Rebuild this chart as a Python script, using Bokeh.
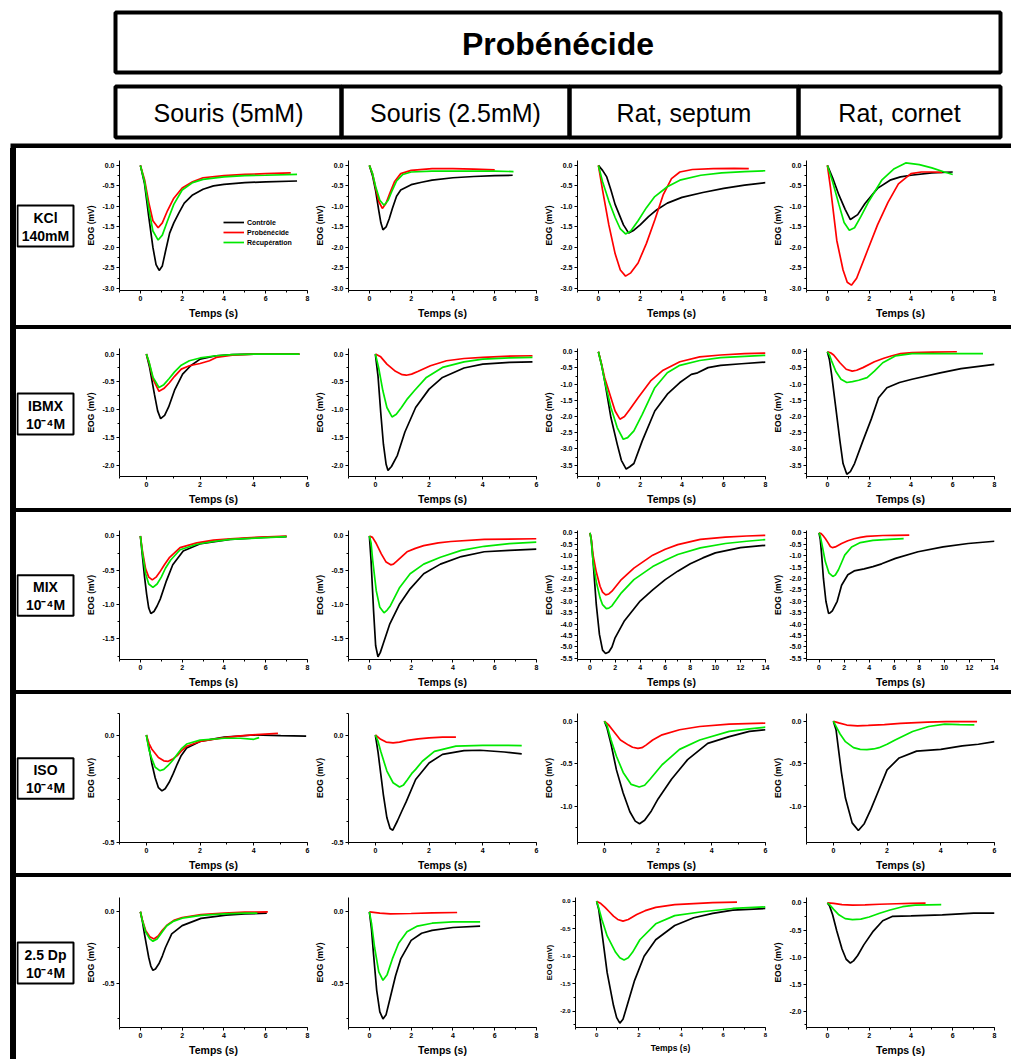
from bokeh.plotting import figure
from bokeh.layouts import column, row
from bokeh.models import Range1d, SingleIntervalTicker, NumeralTickFormatter, Legend, LegendItem, Div
from bokeh.core.properties import value
from bokeh.embed import file_html
from bokeh.resources import INLINE

# ---------------- labels ----------------
title_text = "Probénécide"
col_labels = ["Souris (5mM)", "Souris (2.5mM)", "Rat, septum", "Rat, cornet"]
row_labels = [("KCl", "140mM"), ("IBMX", "10⁻⁴M"), ("MIX", "10⁻⁴M"), ("ISO", "10⁻⁴M"), ("2.5 Dp", "10⁻⁴M")]
series_labels = ["Contrôle", "Probénécide", "Récupération"]
series_colors = ["#000000", "#ff0000", "#00e800"]
row_keys = ["kcl", "ibmx", "mix", "iso", "dp"]
col_keys = ["s5", "s25", "sep", "cor"]
series_keys = ["ctl", "pro", "rec"]

# axis extents per panel (rows x columns)
x_max = [[8, 8, 8, 8], [6, 6, 8, 8], [8, 8, 14, 14], [6, 6, 6, 6], [8, 8, 8, 8]]
y_min = [[-3.05, -3.05, -3.05, -3.05], [-2.2, -2.2, -3.85, -3.85], [-1.8, -1.8, -5.55, -5.55],
         [-0.5, -0.5, -1.42, -1.42], [-0.81, -0.81, -2.3, -2.3]]
y_max = [[0.12, 0.12, 0.12, 0.12], [0.1, 0.1, 0.1, 0.1], [0.08, 0.08, 0.1, 0.1],
         [0.1, 0.1, 0.09, 0.09], [0.1, 0.1, 0.07, 0.1]]

# ---------------- data: time (s) / EOG (mV) ----------------
# KCl 140mM
kcl_s5_ctl_t = [0, 0.2, 0.4, 0.6, 0.75, 0.9, 1.05, 1.2, 1.4, 1.6, 1.85, 2.1, 2.5, 3.0, 3.5, 4.0, 5.0, 6.0, 7.5]
kcl_s5_ctl_v = [0, -0.45, -1.25, -2.0, -2.42, -2.56, -2.45, -2.1, -1.65, -1.4, -1.15, -0.92, -0.72, -0.58, -0.5, -0.46, -0.42, -0.4, -0.38]
kcl_s5_pro_t = [0, 0.2, 0.4, 0.6, 0.85, 1.05, 1.3, 1.6, 2.0, 2.5, 3.0, 4.0, 5.0, 6.0, 7.2]
kcl_s5_pro_v = [0, -0.35, -0.9, -1.35, -1.52, -1.4, -1.1, -0.8, -0.55, -0.4, -0.3, -0.25, -0.22, -0.2, -0.18]
kcl_s5_rec_t = [0, 0.2, 0.4, 0.6, 0.85, 1.05, 1.3, 1.6, 2.0, 2.5, 3.0, 4.0, 5.0, 6.0, 7.5]
kcl_s5_rec_v = [0, -0.4, -1.05, -1.6, -1.82, -1.7, -1.35, -0.95, -0.6, -0.42, -0.34, -0.28, -0.25, -0.24, -0.22]

kcl_s25_ctl_t = [0, 0.15, 0.3, 0.45, 0.55, 0.65, 0.8, 0.95, 1.1, 1.3, 1.5, 2.0, 2.5, 3.0, 4.0, 5.0, 6.0, 6.86]
kcl_s25_ctl_v = [0, -0.25, -0.62, -1.1, -1.4, -1.57, -1.5, -1.3, -1.05, -0.75, -0.6, -0.47, -0.41, -0.36, -0.3, -0.27, -0.25, -0.24]
kcl_s25_pro_t = [0, 0.15, 0.3, 0.45, 0.62, 0.8, 1.0, 1.2, 1.5, 2.0, 3.0, 4.0, 5.0, 6.0]
kcl_s25_pro_v = [0, -0.2, -0.55, -0.88, -1.05, -0.92, -0.65, -0.4, -0.2, -0.12, -0.08, -0.08, -0.09, -0.11]
kcl_s25_rec_t = [0, 0.15, 0.3, 0.5, 0.7, 0.9, 1.1, 1.3, 1.6, 2.0, 3.0, 4.0, 5.0, 6.0, 6.9]
kcl_s25_rec_v = [0, -0.2, -0.52, -0.85, -0.97, -0.85, -0.6, -0.38, -0.22, -0.16, -0.14, -0.14, -0.14, -0.14, -0.15]

kcl_sep_ctl_t = [0, 0.2, 0.4, 0.6, 0.8, 1.0, 1.2, 1.45, 1.7, 2.0, 2.4, 2.8, 3.3, 4.0, 5.0, 6.0, 7.0, 8.0]
kcl_sep_ctl_v = [0, -0.12, -0.28, -0.6, -0.95, -1.2, -1.45, -1.65, -1.58, -1.45, -1.25, -1.08, -0.92, -0.78, -0.66, -0.56, -0.48, -0.42]
kcl_sep_pro_t = [0, 0.2, 0.5, 0.8, 1.05, 1.3, 1.55, 1.9, 2.3, 2.7, 3.1, 3.5, 3.9, 4.5, 5.5, 6.5, 7.2]
kcl_sep_pro_v = [0, -0.6, -1.45, -2.15, -2.55, -2.7, -2.62, -2.38, -1.9, -1.33, -0.72, -0.32, -0.16, -0.1, -0.08, -0.07, -0.08]
kcl_sep_rec_t = [0, 0.2, 0.5, 0.8, 1.05, 1.3, 1.55, 1.9, 2.3, 2.7, 3.3, 3.9, 4.9, 5.9, 7.0, 8.0]
kcl_sep_rec_v = [0, -0.4, -0.87, -1.27, -1.55, -1.67, -1.6, -1.35, -1.03, -0.76, -0.52, -0.36, -0.24, -0.18, -0.15, -0.13]

kcl_cor_ctl_t = [0, 0.25, 0.55, 0.85, 1.1, 1.45, 1.8, 2.4, 3.0, 3.5, 4.0, 5.0, 6.0]
kcl_cor_ctl_v = [0, -0.3, -0.72, -1.07, -1.32, -1.2, -0.93, -0.56, -0.36, -0.28, -0.24, -0.18, -0.16]
kcl_cor_pro_t = [0, 0.15, 0.45, 0.75, 0.95, 1.15, 1.4, 1.9, 2.4, 2.9, 3.4, 4.0, 4.5, 5.0, 5.5]
kcl_cor_pro_v = [0, -0.55, -1.83, -2.55, -2.85, -2.92, -2.75, -2.1, -1.45, -0.9, -0.45, -0.2, -0.16, -0.16, -0.17]
kcl_cor_rec_t = [0, 0.25, 0.55, 0.8, 1.05, 1.3, 1.6, 2.0, 2.6, 3.2, 3.75, 4.4, 5.0, 5.6, 6.0]
kcl_cor_rec_v = [0, -0.4, -0.95, -1.39, -1.58, -1.52, -1.25, -0.86, -0.36, -0.08, 0.06, 0.02, -0.06, -0.16, -0.22]

# IBMX 10-4M
ibmx_s5_ctl_t = [0, 0.12, 0.3, 0.42, 0.53, 0.68, 0.83, 1.05, 1.35, 1.65, 2.0, 2.6, 3.2, 4.0, 5.7]
ibmx_s5_ctl_v = [0, -0.24, -0.72, -1.02, -1.16, -1.1, -0.95, -0.65, -0.36, -0.21, -0.09, -0.03, -0.01, 0.0, 0.0]
ibmx_s5_pro_t = [0, 0.1, 0.25, 0.47, 0.65, 0.85, 1.05, 1.3, 1.6, 2.0, 2.35, 2.6, 3.2, 4.0, 5.7]
ibmx_s5_pro_v = [0, -0.15, -0.45, -0.67, -0.62, -0.52, -0.4, -0.27, -0.21, -0.17, -0.12, -0.06, -0.02, 0.0, 0.0]
ibmx_s5_rec_t = [0, 0.1, 0.25, 0.47, 0.65, 0.85, 1.05, 1.3, 1.6, 2.0, 2.6, 3.2, 4.0, 5.7]
ibmx_s5_rec_v = [0, -0.14, -0.42, -0.6, -0.55, -0.44, -0.32, -0.2, -0.12, -0.07, -0.03, -0.01, 0.0, 0.0]

ibmx_s25_ctl_t = [0, 0.1, 0.2, 0.3, 0.4, 0.47, 0.6, 0.82, 1.1, 1.5, 2.0, 2.5, 3.3, 4.0, 5.0, 5.85]
ibmx_s25_ctl_v = [0, -0.4, -1.05, -1.62, -1.98, -2.09, -2.02, -1.82, -1.4, -0.96, -0.63, -0.42, -0.25, -0.18, -0.15, -0.14]
ibmx_s25_pro_t = [0, 0.2, 0.43, 0.75, 1.0, 1.15, 1.35, 1.6, 2.05, 2.65, 3.3, 4.0, 4.8, 5.85]
ibmx_s25_pro_v = [0, -0.05, -0.18, -0.31, -0.37, -0.38, -0.36, -0.31, -0.21, -0.12, -0.08, -0.06, -0.04, -0.03]
ibmx_s25_rec_t = [0, 0.12, 0.28, 0.43, 0.62, 0.78, 0.97, 1.2, 1.45, 1.9, 2.5, 3.3, 4.0, 5.0, 5.85]
ibmx_s25_rec_v = [0, -0.24, -0.66, -0.96, -1.13, -1.08, -0.96, -0.8, -0.66, -0.42, -0.24, -0.14, -0.09, -0.07, -0.06]

ibmx_sep_ctl_t = [0, 0.15, 0.3, 0.6, 0.9, 1.1, 1.33, 1.5, 1.7, 2.1, 2.7, 3.3, 3.9, 4.45, 4.75, 5.25, 5.85, 6.85, 8.0]
ibmx_sep_ctl_v = [0, -0.4, -0.9, -2.03, -2.85, -3.35, -3.62, -3.55, -3.45, -2.75, -1.83, -1.31, -0.95, -0.7, -0.65, -0.49, -0.42, -0.37, -0.32]
ibmx_sep_pro_t = [0, 0.15, 0.3, 0.6, 0.8, 1.03, 1.25, 1.5, 1.9, 2.5, 3.1, 3.9, 4.85, 5.85, 7.0, 8.0]
ibmx_sep_pro_v = [0, -0.38, -0.8, -1.42, -1.83, -2.08, -2.0, -1.78, -1.42, -0.9, -0.57, -0.31, -0.16, -0.1, -0.06, -0.04]
ibmx_sep_rec_t = [0, 0.15, 0.3, 0.6, 0.9, 1.19, 1.4, 1.7, 2.1, 2.7, 3.3, 3.9, 4.85, 5.85, 7.0, 8.0]
ibmx_sep_rec_v = [0, -0.4, -0.9, -1.72, -2.34, -2.7, -2.65, -2.44, -1.93, -1.11, -0.65, -0.42, -0.27, -0.18, -0.14, -0.11]

ibmx_cor_ctl_t = [0, 0.1, 0.2, 0.4, 0.6, 0.75, 0.93, 1.1, 1.3, 1.7, 2.1, 2.45, 2.85, 3.45, 4.05, 5.4, 6.4, 8.0]
ibmx_cor_ctl_v = [0, -0.25, -0.7, -1.72, -2.75, -3.45, -3.78, -3.7, -3.45, -2.75, -2.08, -1.42, -1.11, -0.95, -0.85, -0.65, -0.52, -0.39]
ibmx_cor_pro_t = [0, 0.15, 0.3, 0.6, 0.9, 1.19, 1.4, 1.7, 2.25, 2.7, 3.05, 3.5, 4.05, 5.0, 6.2]
ibmx_cor_pro_v = [0, -0.03, -0.1, -0.34, -0.54, -0.6, -0.57, -0.49, -0.31, -0.2, -0.13, -0.06, -0.03, -0.01, 0.0]
ibmx_cor_rec_t = [0, 0.1, 0.2, 0.4, 0.65, 0.93, 1.2, 1.5, 1.9, 2.25, 2.65, 3.25, 4.05, 5.5, 7.45]
ibmx_cor_rec_v = [0, -0.1, -0.28, -0.6, -0.85, -0.95, -0.92, -0.88, -0.8, -0.6, -0.34, -0.13, -0.06, -0.06, -0.06]

# MIX 10-4M
mix_s5_ctl_t = [0, 0.1, 0.2, 0.3, 0.4, 0.5, 0.65, 0.8, 0.95, 1.25, 1.55, 2.05, 2.9, 4.3, 5.9, 7.0]
mix_s5_ctl_v = [0, -0.3, -0.6, -0.85, -1.05, -1.13, -1.1, -1.02, -0.92, -0.65, -0.42, -0.22, -0.11, -0.05, -0.02, -0.01]
mix_s5_pro_t = [0, 0.1, 0.25, 0.4, 0.57, 0.75, 0.92, 1.15, 1.4, 1.9, 2.7, 3.5, 4.3, 5.5, 7.0]
mix_s5_pro_v = [0, -0.22, -0.48, -0.6, -0.64, -0.6, -0.53, -0.42, -0.31, -0.17, -0.1, -0.06, -0.04, -0.02, 0.0]
mix_s5_rec_t = [0, 0.1, 0.25, 0.4, 0.6, 0.8, 1.0, 1.2, 1.45, 1.9, 2.7, 3.5, 4.3, 5.5, 7.0]
mix_s5_rec_v = [0, -0.25, -0.55, -0.7, -0.75, -0.7, -0.6, -0.47, -0.35, -0.2, -0.12, -0.08, -0.05, -0.03, -0.01]

mix_s25_ctl_t = [0, 0.08, 0.2, 0.3, 0.41, 0.52, 0.65, 0.98, 1.45, 1.95, 2.6, 3.4, 4.4, 5.5, 6.7, 8.0]
mix_s25_ctl_v = [0, -0.36, -1.09, -1.6, -1.76, -1.7, -1.58, -1.28, -0.99, -0.77, -0.55, -0.41, -0.3, -0.23, -0.21, -0.19]
mix_s25_pro_t = [0, 0.15, 0.33, 0.57, 0.8, 1.02, 1.15, 1.3, 1.55, 1.8, 2.2, 2.6, 3.3, 3.9, 5.5, 8.0]
mix_s25_pro_v = [0, -0.02, -0.11, -0.26, -0.38, -0.42, -0.41, -0.37, -0.3, -0.23, -0.18, -0.14, -0.1, -0.08, -0.05, -0.04]
mix_s25_rec_t = [0, 0.08, 0.16, 0.33, 0.5, 0.7, 0.85, 1.0, 1.45, 1.95, 2.6, 3.4, 4.4, 5.5, 6.7, 8.0]
mix_s25_rec_v = [0, -0.1, -0.36, -0.8, -1.04, -1.12, -1.08, -1.02, -0.75, -0.55, -0.41, -0.31, -0.21, -0.15, -0.11, -0.09]

mix_sep_ctl_t = [0, 0.1, 0.25, 0.5, 0.75, 1.0, 1.24, 1.5, 1.75, 2.0, 2.75, 4.0, 5.0, 6.0, 7.0, 8.0, 9.0, 10.0, 12.0, 14.0]
mix_sep_ctl_v = [0, -0.3, -1.3, -3.15, -4.45, -5.14, -5.29, -5.22, -5.0, -4.6, -3.85, -2.99, -2.5, -2.05, -1.68, -1.36, -1.1, -0.88, -0.65, -0.55]
mix_sep_pro_t = [0, 0.1, 0.25, 0.5, 0.8, 1.0, 1.25, 1.5, 1.75, 2.5, 3.5, 5.0, 6.0, 7.0, 8.8, 10.8, 12.5, 14.0]
mix_sep_pro_v = [0, -0.3, -1.0, -1.72, -2.34, -2.6, -2.72, -2.68, -2.56, -2.05, -1.55, -0.98, -0.72, -0.52, -0.29, -0.19, -0.14, -0.11]
mix_sep_rec_t = [0, 0.1, 0.25, 0.5, 0.8, 1.0, 1.3, 1.5, 1.75, 2.5, 3.5, 5.0, 6.0, 7.0, 8.8, 10.8, 12.5, 14.0]
mix_sep_rec_v = [0, -0.35, -1.3, -2.15, -2.85, -3.15, -3.32, -3.3, -3.2, -2.63, -2.05, -1.48, -1.2, -0.95, -0.66, -0.47, -0.37, -0.3]

mix_cor_ctl_t = [0, 0.1, 0.2, 0.35, 0.55, 0.76, 0.9, 1.06, 1.45, 1.8, 2.3, 2.8, 3.6, 4.3, 5.0, 6.1, 7.9, 9.9, 11.9, 14.0]
mix_cor_ctl_v = [0, -0.3, -0.9, -2.0, -3.0, -3.53, -3.5, -3.42, -3.0, -2.3, -1.84, -1.67, -1.58, -1.48, -1.36, -1.12, -0.83, -0.62, -0.47, -0.37]
mix_cor_pro_t = [0, 0.15, 0.3, 0.5, 0.7, 0.9, 1.06, 1.3, 1.8, 2.3, 2.8, 3.3, 3.8, 5.1, 6.0, 7.2]
mix_cor_pro_v = [0, -0.03, -0.11, -0.25, -0.42, -0.6, -0.65, -0.62, -0.47, -0.35, -0.26, -0.2, -0.16, -0.12, -0.11, -0.1]
mix_cor_rec_t = [0, 0.1, 0.25, 0.5, 0.8, 1.1, 1.3, 1.55, 1.8, 2.05, 2.6, 3.3, 4.3, 5.6, 6.75]
mix_cor_rec_v = [0, -0.15, -0.55, -1.26, -1.77, -1.91, -1.85, -1.62, -1.3, -0.98, -0.62, -0.43, -0.33, -0.29, -0.26]

# ISO 10-4M
iso_s5_ctl_t = [0, 0.1, 0.2, 0.33, 0.45, 0.58, 0.7, 0.85, 1.0, 1.15, 1.3, 1.5, 2.0, 2.9, 4.0, 5.0, 5.95]
iso_s5_ctl_v = [0, -0.06, -0.13, -0.2, -0.245, -0.26, -0.25, -0.22, -0.18, -0.135, -0.095, -0.06, -0.03, -0.01, 0.0, -0.003, -0.005]
iso_s5_pro_t = [0, 0.1, 0.2, 0.45, 0.65, 0.8, 1.0, 1.15, 1.3, 1.5, 2.0, 2.9, 3.5, 4.1, 4.9]
iso_s5_pro_v = [0, -0.04, -0.065, -0.105, -0.12, -0.123, -0.11, -0.096, -0.075, -0.052, -0.03, -0.012, -0.004, 0.002, 0.008]
iso_s5_rec_t = [0, 0.1, 0.2, 0.33, 0.5, 0.65, 0.8, 1.0, 1.15, 1.3, 1.5, 2.0, 2.9, 3.5, 4.0, 4.2]
iso_s5_rec_v = [0, -0.07, -0.11, -0.15, -0.166, -0.16, -0.143, -0.115, -0.09, -0.065, -0.042, -0.024, -0.015, -0.015, -0.02, -0.012]

iso_s25_ctl_t = [0, 0.1, 0.2, 0.3, 0.43, 0.55, 0.65, 0.82, 1.0, 1.15, 1.5, 2.0, 2.5, 3.3, 3.9, 4.8, 5.45]
iso_s25_ctl_v = [0, -0.08, -0.18, -0.28, -0.385, -0.435, -0.443, -0.4, -0.35, -0.31, -0.207, -0.13, -0.09, -0.073, -0.071, -0.079, -0.088]
iso_s25_pro_t = [0, 0.2, 0.4, 0.66, 0.9, 1.2, 1.6, 2.0, 2.5, 3.0]
iso_s25_pro_v = [0, -0.02, -0.033, -0.037, -0.033, -0.025, -0.018, -0.013, -0.01, -0.01]
iso_s25_rec_t = [0, 0.1, 0.2, 0.43, 0.66, 0.9, 1.05, 1.2, 1.35, 1.5, 1.75, 2.2, 3.0, 4.0, 5.45]
iso_s25_rec_v = [0, -0.03, -0.076, -0.168, -0.222, -0.242, -0.232, -0.207, -0.18, -0.16, -0.122, -0.076, -0.052, -0.048, -0.049]

iso_sep_ctl_t = [0, 0.1, 0.25, 0.45, 0.7, 0.95, 1.15, 1.31, 1.5, 1.75, 2.0, 2.5, 3.1, 3.85, 4.65, 5.4, 6.0]
iso_sep_ctl_v = [0, -0.08, -0.27, -0.57, -0.84, -1.06, -1.17, -1.2, -1.16, -1.05, -0.91, -0.68, -0.45, -0.26, -0.18, -0.12, -0.1]
iso_sep_pro_t = [0, 0.15, 0.3, 0.6, 0.9, 1.05, 1.25, 1.4, 1.55, 1.8, 2.15, 2.8, 3.55, 4.65, 6.0]
iso_sep_pro_v = [0, -0.04, -0.1, -0.22, -0.28, -0.305, -0.318, -0.31, -0.28, -0.22, -0.16, -0.1, -0.062, -0.035, -0.023]
iso_sep_rec_t = [0, 0.1, 0.25, 0.45, 0.7, 1.0, 1.3, 1.5, 1.7, 2.15, 2.8, 3.55, 4.65, 5.4, 6.0]
iso_sep_rec_v = [0, -0.05, -0.22, -0.41, -0.6, -0.74, -0.77, -0.75, -0.68, -0.51, -0.33, -0.22, -0.12, -0.09, -0.07]

iso_cor_ctl_t = [0, 0.1, 0.2, 0.3, 0.45, 0.7, 0.93, 1.15, 1.4, 1.7, 2.0, 2.45, 3.1, 4.0, 4.8, 5.4, 6.0]
iso_cor_ctl_v = [0, -0.1, -0.35, -0.6, -0.9, -1.19, -1.28, -1.2, -1.03, -0.8, -0.57, -0.43, -0.35, -0.33, -0.29, -0.27, -0.24]
iso_cor_pro_t = [0, 0.2, 0.5, 0.9, 1.3, 1.9, 2.5, 3.5, 4.2, 5.35]
iso_cor_pro_v = [0, -0.02, -0.045, -0.055, -0.05, -0.04, -0.025, -0.01, -0.005, -0.005]
iso_cor_rec_t = [0, 0.1, 0.25, 0.45, 0.75, 1.0, 1.25, 1.5, 1.7, 2.0, 2.3, 2.95, 3.55, 4.15, 4.7, 5.25]
iso_cor_rec_v = [0, -0.06, -0.15, -0.24, -0.31, -0.33, -0.333, -0.325, -0.31, -0.27, -0.22, -0.12, -0.062, -0.035, -0.04, -0.043]

# 2.5 Dp 10-4M
dp_s5_ctl_t = [0, 0.1, 0.2, 0.3, 0.4, 0.5, 0.6, 0.72, 0.9, 1.05, 1.2, 1.5, 2.0, 2.9, 4.1, 5.0, 6.05]
dp_s5_ctl_v = [0, -0.07, -0.16, -0.24, -0.32, -0.38, -0.41, -0.4, -0.36, -0.31, -0.25, -0.155, -0.097, -0.046, -0.023, -0.015, -0.01]
dp_s5_pro_t = [0, 0.1, 0.25, 0.45, 0.65, 0.85, 1.05, 1.3, 1.6, 2.0, 2.9, 4.0, 5.0, 6.1]
dp_s5_pro_v = [0, -0.06, -0.13, -0.175, -0.19, -0.17, -0.13, -0.09, -0.06, -0.04, -0.02, -0.01, -0.003, 0.0]
dp_s5_rec_t = [0, 0.1, 0.25, 0.45, 0.6, 0.8, 1.0, 1.25, 1.6, 2.0, 2.9, 4.0, 5.0, 5.6]
dp_s5_rec_v = [0, -0.065, -0.14, -0.19, -0.206, -0.19, -0.15, -0.1, -0.065, -0.045, -0.025, -0.015, -0.01, -0.01]

dp_s25_ctl_t = [0, 0.1, 0.2, 0.35, 0.5, 0.65, 0.8, 1.0, 1.25, 1.5, 2.0, 2.5, 3.0, 4.0, 5.3]
dp_s25_ctl_v = [0, -0.12, -0.3, -0.55, -0.7, -0.75, -0.72, -0.6, -0.45, -0.33, -0.2, -0.15, -0.13, -0.11, -0.1]
dp_s25_pro_t = [0, 0.5, 1.0, 2.0, 3.0, 4.2]
dp_s25_pro_v = [0, -0.01, -0.015, -0.012, -0.008, -0.005]
dp_s25_rec_t = [0, 0.1, 0.25, 0.45, 0.65, 0.85, 1.1, 1.4, 1.8, 2.3, 3.0, 4.0, 5.3]
dp_s25_rec_v = [0, -0.08, -0.25, -0.42, -0.48, -0.44, -0.33, -0.22, -0.14, -0.1, -0.08, -0.07, -0.07]

dp_sep_ctl_t = [0, 0.1, 0.25, 0.5, 0.8, 0.95, 1.1, 1.25, 1.4, 1.8, 2.25, 2.8, 3.7, 4.6, 5.5, 6.45, 8.0]
dp_sep_ctl_v = [0, -0.15, -0.56, -1.3, -1.9, -2.12, -2.22, -2.15, -1.96, -1.44, -1.0, -0.7, -0.44, -0.3, -0.22, -0.16, -0.13]
dp_sep_pro_t = [0, 0.2, 0.4, 0.6, 0.8, 1.0, 1.25, 1.5, 1.9, 2.3, 2.8, 3.7, 4.6, 5.5, 6.65]
dp_sep_pro_v = [0, -0.04, -0.11, -0.19, -0.27, -0.33, -0.36, -0.33, -0.24, -0.17, -0.11, -0.06, -0.04, -0.025, -0.015]
dp_sep_rec_t = [0, 0.1, 0.25, 0.5, 0.9, 1.1, 1.3, 1.5, 1.7, 2.05, 2.8, 3.7, 5.0, 6.45, 8.0]
dp_sep_rec_v = [0, -0.12, -0.33, -0.63, -0.93, -1.03, -1.07, -1.03, -0.93, -0.7, -0.41, -0.26, -0.19, -0.13, -0.1]

dp_cor_ctl_t = [0, 0.1, 0.25, 0.45, 0.7, 0.9, 1.1, 1.25, 1.45, 1.75, 2.2, 2.65, 3.1, 4.0, 5.5, 7.0, 8.0]
dp_cor_ctl_v = [0, -0.05, -0.22, -0.52, -0.85, -1.04, -1.11, -1.07, -0.97, -0.77, -0.52, -0.33, -0.25, -0.24, -0.22, -0.19, -0.19]
dp_cor_pro_t = [0, 0.3, 0.7, 1.2, 1.8, 2.5, 3.3, 4.0, 4.7]
dp_cor_pro_v = [0, -0.01, -0.03, -0.04, -0.035, -0.025, -0.015, -0.008, -0.005]
dp_cor_rec_t = [0, 0.1, 0.3, 0.55, 0.85, 1.2, 1.6, 2.0, 2.5, 3.0, 3.6, 4.2, 5.45]
dp_cor_rec_v = [0, -0.03, -0.12, -0.22, -0.29, -0.31, -0.3, -0.26, -0.19, -0.13, -0.07, -0.04, -0.03]

# ---------------- layout ----------------
FONT = "Liberation Sans"
PAGE_W = 1011
HEAD_H = 148
ROW_H = [177, 179, 178, 179, 182]
BORDER_TOP = [12, 19, 18, 19, 20]
BORDER_BOTTOM = [35, 32, 30, 30, 32]
SEP_H = 4
GAP_W = 10       # white space left of the frame bar
BAR_W = 6        # thick black bar
LABEL_W = 67
PANEL_W = 229
PANEL_BL = 34
PANEL_BR = 5


def blank(width, height, **kw):
    p = figure(width=width, height=height, x_range=Range1d(0, width), y_range=Range1d(height, 0),
               output_backend="svg", toolbar_location=None, min_border=0,
               x_axis_location=None, y_axis_location=None, **kw)
    p.grid.visible = False
    p.outline_line_color = None
    return p


def box_div(width, height, color=None):
    styles = {"background-color": color} if color else {}
    return Div(text="", width=width, height=height, margin=0, styles=styles)


# header
head = blank(PAGE_W, HEAD_H)
head.quad(left=[115], right=[1000], top=[12], bottom=[72], fill_color=None, line_color="black", line_width=4)
div_x = [115, 341, 569, 798, 1000]
head.quad(left=div_x[:-1], right=div_x[1:], top=[86] * 4, bottom=[137] * 4,
          fill_color=None, line_color="black", line_width=4)
head.quad(left=[GAP_W], right=[PAGE_W], top=[143], bottom=[148], fill_color="black", line_color=None)
head.text(x=[(115 + 1000) / 2], y=[43], text=[title_text], text_font=value(FONT), text_font_style="bold",
          text_font_size="32px", text_align="center", text_baseline="middle", text_color="black")
head.text(x=[(div_x[i] + div_x[i + 1]) / 2 for i in range(4)], y=[112] * 4, text=col_labels,
          text_font=value(FONT), text_font_size="25px", text_align="center", text_baseline="middle",
          text_color="black")


def style_axes(p, small=False):
    p.grid.visible = False
    p.outline_line_color = None
    for ax in p.axis:
        ax.axis_line_width = 1
        ax.major_tick_in = 0
        ax.major_tick_out = 3
        ax.minor_tick_in = 0
        ax.minor_tick_out = 2
        ax.major_label_standoff = 2
        ax.axis_label_standoff = 3
        ax.major_label_text_font = FONT
        ax.major_label_text_font_style = "bold"
        ax.major_label_text_font_size = "6px" if small else "7px"
        ax.axis_label_text_font = FONT
        ax.axis_label_text_font_style = "bold"
        ax.major_label_text_color = "black"
        ax.axis_label_text_color = "black"
    p.xaxis.axis_label_text_font_size = "8.5px" if small else "10.5px"
    p.yaxis.axis_label_text_font_size = "7.5px" if small else "8.5px"


items = [head]
for ri, rk in enumerate(row_keys):
    h = ROW_H[ri]
    bt, bb = BORDER_TOP[ri], BORDER_BOTTOM[ri]
    fh = h - bt - bb
    lab = figure(width=LABEL_W, height=h, x_range=Range1d(0, LABEL_W), y_range=Range1d(fh, 0),
                 output_backend="svg", toolbar_location=None, min_border_left=0, min_border_right=0,
                 min_border_top=bt, min_border_bottom=bb, x_axis_location=None, y_axis_location=None)
    lab.grid.visible = False
    lab.outline_line_color = None
    lab.quad(left=[1], right=[57], top=[45], bottom=[86], fill_color="white", line_color="black", line_width=2)
    lab.text(x=[29, 29], y=[57, 75], text=list(row_labels[ri]), text_font=value(FONT), text_font_style="bold",
             text_font_size="14px", text_align="center", text_baseline="middle", text_color="black")
    figs = [box_div(GAP_W, h), box_div(BAR_W, h, "black"), lab]
    for ci, ck in enumerate(col_keys):
        small = (ri == 4 and ci == 2)
        p = figure(width=PANEL_W, height=h, x_range=Range1d(-1, x_max[ri][ci]),
                   y_range=Range1d(y_min[ri][ci], y_max[ri][ci]), output_backend="svg",
                   toolbar_location=None, min_border_left=PANEL_BL, min_border_right=PANEL_BR,
                   min_border_top=bt, min_border_bottom=bb)
        p.xaxis.ticker = SingleIntervalTicker(interval=2, num_minor_ticks=2)
        p.yaxis.ticker = SingleIntervalTicker(interval=0.5, num_minor_ticks=5 if ri == 3 and ci < 2 else 2)
        p.yaxis.formatter = NumeralTickFormatter(format="0.0")
        p.xaxis.axis_label = "Temps (s)"
        p.yaxis.axis_label = "EOG (mV)"
        style_axes(p, small)
        rends = []
        for si, sk in enumerate(series_keys):
            t = globals()[f"{rk}_{ck}_{sk}_t"]
            v = globals()[f"{rk}_{ck}_{sk}_v"]
            rends.append(p.line(t, v, line_color=series_colors[si], line_width=1.7))
        if ri == 0 and ci == 0:
            leg = Legend(items=[LegendItem(label=series_labels[i], renderers=[rends[i]]) for i in range(3)],
                         location=(104, 43), label_text_font=FONT, label_text_font_style="bold",
                         label_text_font_size="7px", label_text_color="black", glyph_width=21,
                         glyph_height=10, label_height=10, spacing=0, padding=0, margin=0,
                         label_standoff=3, border_line_color=None, background_fill_alpha=0)
            p.add_layout(leg)
        figs.append(p)
    items.append(row(*figs))
    if ri < 4:
        items.append(row(box_div(GAP_W, SEP_H), box_div(PAGE_W - GAP_W, SEP_H, "black")))

layout = column(*items)
open("out.html", "w").write(file_html(layout, INLINE))
